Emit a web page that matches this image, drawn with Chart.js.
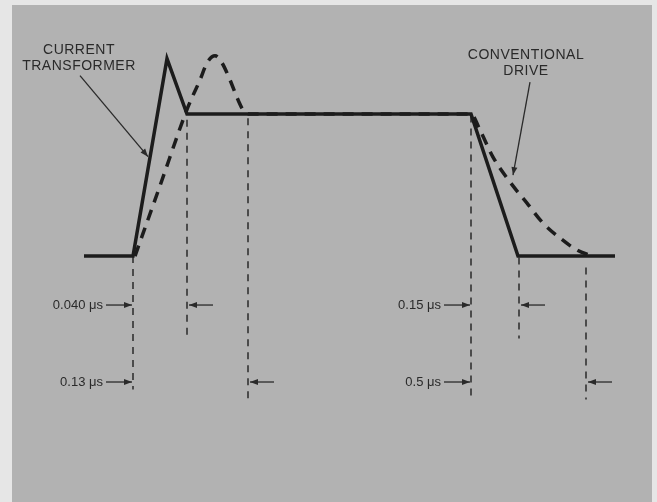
<!DOCTYPE html>
<html>
<head>
<meta charset="utf-8">
<script src="https://cdn.jsdelivr.net/npm/chart.js@4/dist/chart.umd.min.js"></script>
<style>
html, body { margin: 0; padding: 0; background: #e6e6e6; }
#wrap { width: 657px; height: 502px; position: relative; }
</style>
</head>
<body>
<div id="wrap"><canvas id="pulseChart"></canvas></div>
<script>
// time axis is schematic (not to scale), level 1 = flat top of the pulse
var ctTime = [84, 133, 167, 187, 471, 518, 615];
var ctLevel = [0, 0, 1.39, 1, 1, 0, 0];

var cdTime = [135, 160, 188, 200, 207, 215, 222, 230, 238, 243, 250, 471, 480, 493, 510, 527, 543, 560, 577, 592];
var cdLevel = [0, 0.495, 1.05, 1.24, 1.36, 1.41, 1.36, 1.24, 1.1, 1.03, 1, 1, 0.887, 0.697, 0.521, 0.373, 0.232, 0.127, 0.042, 0];

// dashed guide lines: time, top level, bottom level
var guideTime = [133, 187, 248, 471, 519, 586];
var guideTop = [0, 0.96, 0.97, 0.99, -0.01, -0.08];
var guideBottom = [-0.94, -0.58, -1.03, -1.01, -0.58, -1.01];

// timing labels
var dimLabels = ['0.040 \u03bcs', '0.13 \u03bcs', '0.15 \u03bcs', '0.5 \u03bcs'];
var dimStart = [133, 133, 471, 471];
var dimEnd = [187, 248, 519, 586];
var dimRow = [-0.345, -0.887, -0.345, -0.887];

// series callouts
var calloutText = [['CURRENT', 'TRANSFORMER'], ['CONVENTIONAL', 'DRIVE']];
var calloutTime = [79, 526];
var calloutLevel = [1.45, 1.415];
var pointerFrom = [[80, 1.27], [530, 1.225]];
var pointerTo = [[148, 0.7], [513, 0.57]];

function toPoints(xs, ys) {
    return xs.map(function (x, i) { return { x: x, y: ys[i] }; });
}

var datasets = [{
    data: toPoints(ctTime, ctLevel),
    borderColor: '#1c1c1c',
    borderWidth: 3.5,
    tension: 0
}, {
    data: toPoints(cdTime, cdLevel),
    borderColor: '#1c1c1c',
    borderWidth: 3.5,
    borderDash: [11, 8],
    cubicInterpolationMode: 'monotone'
}];

guideTime.forEach(function (t, i) {
    datasets.push({
        data: [{ x: t, y: guideTop[i] }, { x: t, y: guideBottom[i] }],
        borderColor: '#2a2a2a',
        borderWidth: 1.5,
        borderDash: [7, 6]
    });
});

function arrow(ctx, x1, y1, x2, y2) {
    var a = Math.atan2(y2 - y1, x2 - x1);
    ctx.beginPath();
    ctx.moveTo(x1, y1);
    ctx.lineTo(x2, y2);
    ctx.stroke();
    ctx.beginPath();
    ctx.moveTo(x2, y2);
    ctx.lineTo(x2 - 8 * Math.cos(a) + 3 * Math.sin(a), y2 - 8 * Math.sin(a) - 3 * Math.cos(a));
    ctx.lineTo(x2 - 8 * Math.cos(a) - 3 * Math.sin(a), y2 - 8 * Math.sin(a) + 3 * Math.cos(a));
    ctx.closePath();
    ctx.fill();
}

var panelPlugin = {
    id: 'panel',
    beforeDraw: function (chart) {
        var c = chart.ctx;
        c.save();
        c.fillStyle = '#e6e6e6';
        c.fillRect(0, 0, chart.width, chart.height);
        c.fillStyle = '#b2b2b2';
        c.fillRect(12, 5, 640, 497);
        c.restore();
    },
    afterDraw: function (chart) {
        var c = chart.ctx, xs = chart.scales.x, ys = chart.scales.y;
        c.save();
        c.fillStyle = '#2a2a2a';
        c.strokeStyle = '#2a2a2a';
        c.lineWidth = 1.3;
        c.font = '13px "Liberation Sans", Arial, sans-serif';
        c.textBaseline = 'middle';

        dimLabels.forEach(function (txt, i) {
            var x0 = xs.getPixelForValue(dimStart[i]);
            var x1 = xs.getPixelForValue(dimEnd[i]);
            var y = ys.getPixelForValue(dimRow[i]);
            c.textAlign = 'right';
            c.fillText(txt, x0 - 30, y);
            arrow(c, x0 - 27, y, x0 - 1, y);
            arrow(c, x1 + 26, y, x1 + 2, y);
        });

        c.font = '14px "Liberation Sans", Arial, sans-serif';
        c.letterSpacing = '0.5px';
        c.textAlign = 'center';
        calloutText.forEach(function (lines, i) {
            var x = xs.getPixelForValue(calloutTime[i]);
            var y = ys.getPixelForValue(calloutLevel[i]);
            lines.forEach(function (ln, j) {
                c.fillText(ln, x, y + j * 16);
            });
            arrow(c, xs.getPixelForValue(pointerFrom[i][0]), ys.getPixelForValue(pointerFrom[i][1]),
                xs.getPixelForValue(pointerTo[i][0]), ys.getPixelForValue(pointerTo[i][1]));
        });
        c.restore();
    }
};

var ctx = document.getElementById('pulseChart').getContext('2d');
var pulseChart = new Chart(ctx, {
    type: 'scatter',
    data: { datasets: datasets },
    options: {
        responsive: true,
        maintainAspectRatio: false,
        animation: false,
        showLine: true,
        elements: { point: { radius: 0 } },
        layout: { padding: 0 },
        plugins: { legend: { display: false }, tooltip: { enabled: false } },
        scales: {
            x: { type: 'linear', display: false, min: 0, max: 657 },
            y: { type: 'linear', display: false, min: -1.732, max: 1.803 }
        }
    },
    plugins: [panelPlugin]
});
</script>
</body>
</html>
